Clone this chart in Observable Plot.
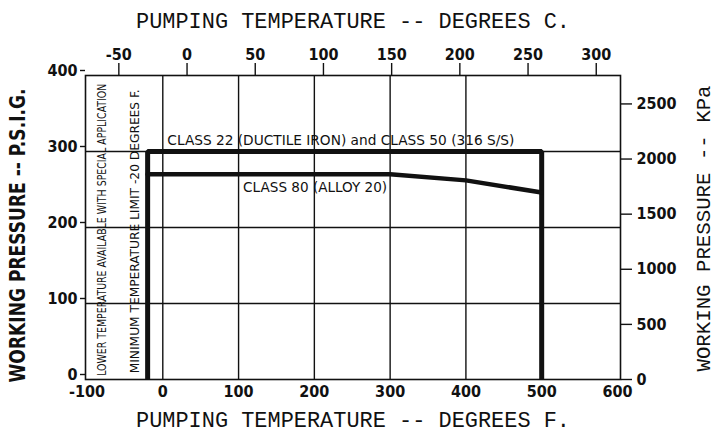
<!DOCTYPE html>
<html>
<head>
<meta charset="utf-8">
<script src="https://cdn.jsdelivr.net/npm/d3@7"></script>
<script src="https://cdn.jsdelivr.net/npm/@observablehq/plot@0.6"></script>
<style>
  html, body { margin: 0; padding: 0; background: #fff; }
</style>
</head>
<body>
<div id="chart"></div>
<script>
// ---- data ----
const class22TempF = [-20, -20, 500, 500];
const class22Psi   = [0, 300, 300, 0];
const class80TempF = [-20, 300, 400, 500];
const class80Psi   = [270, 270, 262, 246];

const fTicks   = [-100, 0, 100, 200, 300, 400, 500, 600];
const cTicks   = [-50, 0, 50, 100, 150, 200, 250, 300];
const psiTicks = [0, 100, 200, 300, 400];
const kpaTicks = [0, 500, 1000, 1500, 2000, 2500];
const gridF    = [0, 100, 200, 300, 400];
const gridPsi  = [100, 200, 300];

const class22Label = "CLASS 22 (DUCTILE IRON) and CLASS 50 (316 S/S)";
const class80Label = "CLASS 80 (ALLOY 20)";
const lowerLabel   = "LOWER TEMPERATURE AVAILABLE WITH SPECIAL APPLICATION";
const minLabel     = "MINIMUM TEMPERATURE LIMIT -20 DEGREES F.";
const topTitle     = "PUMPING TEMPERATURE -- DEGREES C.";
const bottomTitle  = "PUMPING TEMPERATURE -- DEGREES F.";
const leftTitle    = "WORKING PRESSURE -- P.S.I.G.";
const rightTitle   = "WORKING PRESSURE -- KPa";

const KPA_PER_PSI = 6.894757;
const c2f = c => c * 1.8 + 32;

const class22 = class22TempF.map((t, i) => ({t, p: class22Psi[i]}));
const class80 = class80TempF.map((t, i) => ({t, p: class80Psi[i]}));

const narrow = "'Liberation Sans Narrow', 'DejaVu Sans Condensed', sans-serif";
const mono = "'Liberation Mono', 'DejaVu Sans Mono', monospace";

const chart = Plot.plot({
  width: 718,
  height: 437,
  marginLeft: 85,
  marginRight: 98,
  marginTop: 75,
  marginBottom: 58,
  x: {domain: [-102, 604]},
  y: {domain: [0, 400]},
  style: {fontFamily: narrow, fontSize: "16px", background: "#fff", color: "#111"},
  marks: [
    Plot.gridX(gridF, {stroke: "#111", strokeOpacity: 1, strokeWidth: 1.4}),
    Plot.gridY(gridPsi, {stroke: "#111", strokeOpacity: 1, strokeWidth: 1.4}),
    Plot.frame({stroke: "#111", strokeWidth: 1.6}),
    // bottom F axis
    Plot.axisX(fTicks, {anchor: "bottom", tickSize: 0, tickPadding: 6, label: null,
      tickFormat: d => String(d), fontWeight: "bold"}),
    // top C axis
    Plot.axisX(cTicks.map(c2f), {anchor: "top", tickSize: 13, tickPadding: 3, label: null,
      tickFormat: f => String(Math.round((f - 32) / 1.8)), stroke: "#111", strokeWidth: 1.4, fontWeight: "bold"}),
    // left psi axis
    Plot.axisY(psiTicks, {anchor: "left", tickSize: 5, tickPadding: 3, label: null, dy: -5,
      stroke: "#111", strokeWidth: 1.4, fontWeight: "bold"}),
    // right kPa axis
    Plot.axisY(kpaTicks.map(k => k / KPA_PER_PSI), {anchor: "right", tickSize: 11, tickPadding: 5, label: null,
      tickFormat: p => String(Math.round(p * KPA_PER_PSI / 50) * 50),
      stroke: "#111", strokeWidth: 1.4, fontWeight: "bold"}),
    // curves
    Plot.line(class22, {x: "t", y: "p", stroke: "#111", strokeWidth: 5, strokeLinejoin: "miter", strokeLinecap: "butt"}),
    Plot.line(class80, {x: "t", y: "p", stroke: "#111", strokeWidth: 4.5, strokeLinejoin: "miter"}),
    // annotations
    Plot.text([class22Label], {x: 6, y: 300, dy: -11, text: d => d, textAnchor: "start",
      fontFamily: narrow, fontSize: 14, fill: "#111", className: "fit-c22"}),
    Plot.text([class80Label], {x: 106, y: 270, dy: 13, text: d => d, textAnchor: "start",
      fontFamily: narrow, fontSize: 14, fill: "#111", className: "fit-c80"}),
    Plot.text([lowerLabel], {x: -80, y: 197, rotate: -90, text: d => d, textAnchor: "middle",
      fontFamily: narrow, fontSize: 13, fill: "#111", className: "fit-lower"}),
    Plot.text([minLabel], {x: -37, y: 195, rotate: -90, text: d => d, textAnchor: "middle",
      fontFamily: narrow, fontSize: 13, fill: "#111", className: "fit-min"}),
    // titles
    Plot.text([topTitle], {frameAnchor: "top", dy: -55, text: d => d, textAnchor: "middle", lineAnchor: "middle",
      fontFamily: mono, fontSize: 22, fill: "#111", className: "fit-top"}),
    Plot.text([bottomTitle], {frameAnchor: "bottom", dy: 40, text: d => d, textAnchor: "middle", lineAnchor: "middle",
      fontFamily: mono, fontSize: 22, fill: "#111", className: "fit-bottom"}),
    Plot.text([leftTitle], {frameAnchor: "left", dx: -67, dy: 8, rotate: -90, text: d => d,
      textAnchor: "middle", lineAnchor: "middle", fontFamily: narrow,
      fontSize: 21, fontWeight: "bold", fill: "#111", className: "fit-left"}),
    Plot.text([rightTitle], {frameAnchor: "right", dx: 83, dy: 1, rotate: -90, text: d => d,
      textAnchor: "middle", lineAnchor: "middle", fontFamily: mono,
      fontSize: 20, fill: "#111", className: "fit-right"})
  ]
});

document.getElementById("chart").appendChild(chart);

// stretch texts to the widths they take in the original
const fits = {"fit-c22": 347, "fit-c80": 144, "fit-lower": 292, "fit-min": 284,
  "fit-top": 434, "fit-bottom": 434, "fit-left": 294, "fit-right": 286};
for (const [cls, len] of Object.entries(fits)) {
  chart.querySelectorAll("g." + cls + " text").forEach(t => {
    t.setAttribute("textLength", len);
    t.setAttribute("lengthAdjust", "spacingAndGlyphs");
  });
}
</script>
</body>
</html>
